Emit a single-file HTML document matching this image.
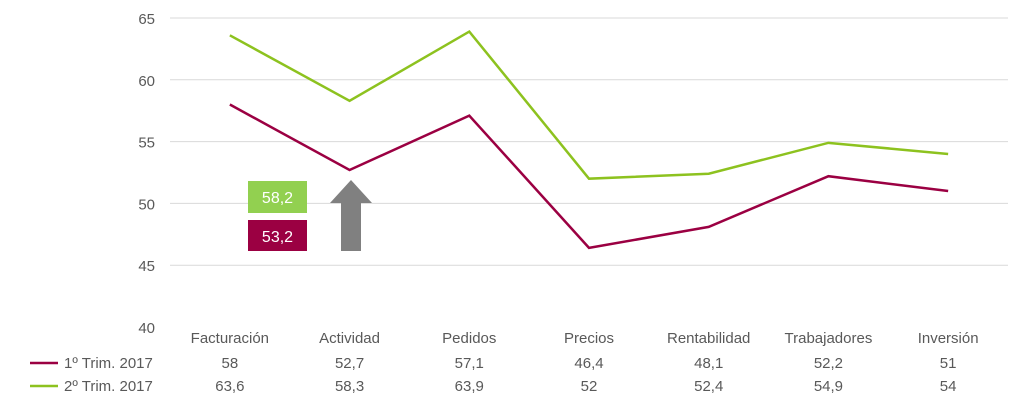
<!DOCTYPE html>
<html><head><meta charset="utf-8"><style>
body{margin:0;background:#fff;font-family:"Liberation Sans",sans-serif}
svg text{font-family:"Liberation Sans",sans-serif;fill:#595959;font-size:15px}
</style></head><body>
<svg id="c" width="1024" height="407" viewBox="0 0 1024 407" xmlns="http://www.w3.org/2000/svg"></svg>
<script>
const categories=["Facturación","Actividad","Pedidos","Precios","Rentabilidad","Trabajadores","Inversión"];
const series1=[58,52.7,57.1,46.4,48.1,52.2,51];
const series2=[63.6,58.3,63.9,52,52.4,54.9,54];
const labels1=["58","52,7","57,1","46,4","48,1","52,2","51"];
const labels2=["63,6","58,3","63,9","52","52,4","54,9","54"];
const yTicks=[40,45,50,55,60,65];
const seriesNames=["1º Trim. 2017","2º Trim. 2017"];
const colors=["#9b0042","#8dc21f"];
const svg=document.getElementById('c');
const NS="http://www.w3.org/2000/svg";
const x0=170,x1=1008,y65=18,y40=327;
const y=v=>y65+(65-v)*(y40-y65)/25;
const step=(x1-x0)/categories.length;
const x=i=>x0+step*(i+0.5);
function mk(t,a,txt){const e=document.createElementNS(NS,t);for(const k in a)e.setAttribute(k,a[k]);if(txt!==undefined)e.textContent=txt;svg.appendChild(e);return e;}
yTicks.forEach(v=>{
  if(v>40){const g=mk('line',{x1:x0,x2:x1,y1:y(v),y2:y(v),stroke:'#d9d9d9','stroke-width':1});
  
  }
  const t=mk('text',{x:155,y:y(v)+6,'text-anchor':'end'},String(v));
  
  
});
categories.forEach((c,i)=>{
  const t=mk('text',{x:x(i),y:343,'text-anchor':'middle'},c);
  
  
});
[series1,series2].forEach((s,k)=>{
  const p=mk('polyline',{points:s.map((v,i)=>x(i)+','+y(v)).join(' '),fill:'none',stroke:colors[k],'stroke-width':2.5});
  
  
  const ry=k===0?368:391;
  const l=mk('line',{x1:30,x2:58,y1:ry-5,y2:ry-5,stroke:colors[k],'stroke-width':2.5});
  
  
  const lt=mk('text',{x:64,y:ry},seriesNames[k]);
  
  
  const labs=k===0?labels1:labels2;
  labs.forEach((v,i)=>{
    const t=mk('text',{x:x(i),y:ry,'text-anchor':'middle'},v);
    
    
  });
});
const b1=mk('rect',{x:248,y:181,width:59,height:32,fill:'#92d050'});


const t1=mk('text',{x:277.5,y:203,'text-anchor':'middle',style:'fill:#fff;font-size:16px'},'58,2');


const b2=mk('rect',{x:248,y:220,width:59,height:31,fill:'#9b0042'});


const t2=mk('text',{x:277.5,y:242,'text-anchor':'middle',style:'fill:#fff;font-size:16px'},'53,2');


const ar=mk('polygon',{points:'351,180 372,203 361,203 361,251 341,251 341,203 330,203',fill:'#808080'});


</script>
</body></html>
